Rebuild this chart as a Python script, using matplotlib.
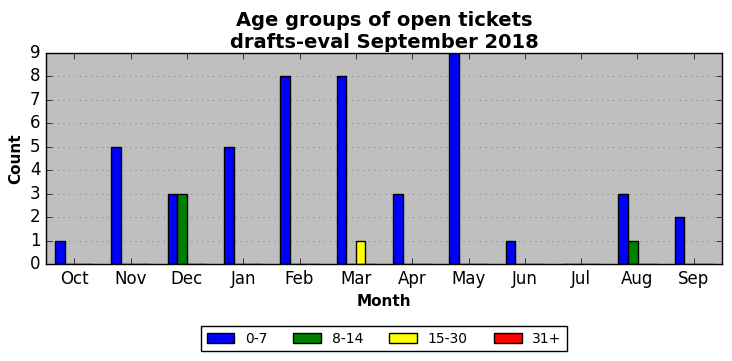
import numpy as np
import matplotlib
matplotlib.use("Agg")
import matplotlib.pyplot as plt

plt.style.use("classic")

months = ["Oct", "Nov", "Dec", "Jan", "Feb", "Mar", "Apr", "May", "Jun", "Jul", "Aug", "Sep"]
age_0_7 = [1, 5, 3, 5, 8, 8, 3, 9, 1, 0, 3, 2]
age_8_14 = [0, 0, 3, 0, 0, 0, 0, 0, 0, 0, 1, 0]
age_15_30 = [0, 0, 0, 0, 0, 1, 0, 0, 0, 0, 0, 0]
age_31 = [0, 0, 0, 0, 0, 0, 0, 0, 0, 0, 0, 0]

series = [("0-7", age_0_7, "blue"), ("8-14", age_8_14, "green"),
          ("15-30", age_15_30, "yellow"), ("31+", age_31, "red")]

fig = plt.figure(figsize=(7.32, 3.61), dpi=100, facecolor="white")
ax = fig.add_axes([46 / 732, 1 - 264 / 361, 676 / 732, 211 / 361])
ax.set_facecolor("#bfbfbf")

x = np.arange(len(months))
w = 0.17
for i, (name, vals, col) in enumerate(series):
    ax.bar(x - 2 * w + i * w, vals, w, align="edge", color=col,
           edgecolor="black", label=name)

ax.set_xlim(-0.5, len(months) - 0.5)
ax.set_ylim(0, 9)
ax.set_yticks(range(10))
ax.set_xticks(x)
ax.set_xticklabels(months)
ax.tick_params(labelsize=12)
ax.yaxis.grid(True, linestyle=":", color="gray")
ax.set_axisbelow(True)

ax.set_xlabel("Month", fontsize=11, fontweight="bold")
ax.set_ylabel("Count", fontsize=11, fontweight="bold")
ax.set_title("Age groups of open tickets\ndrafts-eval September 2018",
             fontsize=14, fontweight="bold", y=0.99)

ax.legend(loc="upper center", bbox_to_anchor=(0.5, -0.262), ncol=4,
          fontsize=10, handlelength=2, handletextpad=0.75,
          columnspacing=1.9, numpoints=1)

fig.savefig("out.png", dpi=100, facecolor="white")
